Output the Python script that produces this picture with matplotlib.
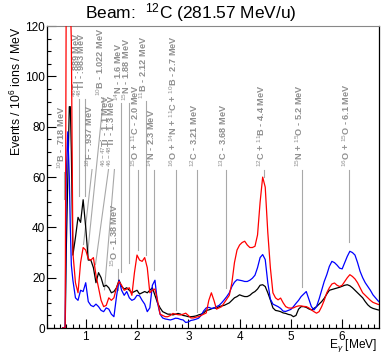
import numpy as np
import matplotlib
matplotlib.use("Agg")
import matplotlib.pyplot as plt

plt.rcParams['font.family'] = ['Liberation Sans', 'DejaVu Sans']
plt.rcParams['mathtext.fontset'] = 'custom'
plt.rcParams['mathtext.rm'] = 'Liberation Sans'
plt.rcParams['mathtext.it'] = 'Liberation Sans:italic'
plt.rcParams['mathtext.bf'] = 'Liberation Sans:bold'

# energies [MeV]
energy = [0.55, 0.60, 0.62, 0.65, 0.68, 0.70, 0.72, 0.75, 0.80, 0.85, 0.90, 0.95,
          1.00, 1.05, 1.10, 1.15, 1.20, 1.25, 1.30, 1.35, 1.40, 1.45, 1.50, 1.55,
          1.60, 1.65, 1.70, 1.75, 1.80, 1.85, 1.90, 1.95, 2.00, 2.05, 2.10, 2.15,
          2.20, 2.25, 2.30, 2.35, 2.40, 2.45, 2.50, 2.55, 2.60, 2.65, 2.70, 2.75,
          2.80, 2.85, 2.90, 2.95, 3.00, 3.05, 3.10, 3.15, 3.20, 3.25, 3.30, 3.35,
          3.40, 3.45, 3.50, 3.55, 3.60, 3.65, 3.70, 3.75, 3.80, 3.85, 3.90, 3.95,
          4.00, 4.05, 4.10, 4.15, 4.20, 4.25, 4.30, 4.35, 4.40, 4.45, 4.50, 4.55,
          4.60, 4.65, 4.70, 4.75, 4.80, 4.85, 4.90, 4.95, 5.00, 5.05, 5.10, 5.15,
          5.20, 5.25, 5.30, 5.35, 5.40, 5.45, 5.50, 5.55, 5.60, 5.65, 5.70, 5.75,
          5.80, 5.85, 5.90, 5.95, 6.00, 6.05, 6.10, 6.15, 6.20, 6.25, 6.30, 6.35,
          6.40, 6.45, 6.50, 6.55, 6.60, 6.65, 6.70, 6.75]

black = [0, 0, 30, 58, 88, 88, 70, 29, 36, 44, 42, 51,
         40, 27, 27, 24, 18, 22, 20, 16.5, 17, 16, 14, 14.5,
         16, 19, 16.5, 15.5, 16, 15, 14, 14.5, 15, 13.5, 14, 14.5,
         14, 15, 16, 13, 10, 8, 6.5, 6, 5.5, 5.5, 5.2, 5.5,
         5.8, 5.5, 5, 4.8, 4.5, 4.5, 4.6, 4.8, 5.2, 5.5, 6, 7,
         7.2, 7.6, 8, 7.8, 8.5, 8.8, 9, 9.5, 10, 11, 12, 12.5,
         13.2, 12.8, 12.5, 12.5, 13, 13.9, 14.5, 15.5, 17, 17.2, 16.5, 14,
         11.2, 8, 7, 6.8, 6.5, 6, 5.8, 5.4, 5.2, 4.5, 5, 7.5,
         8.5, 8.5, 8.2, 7.6, 7.2, 7.8, 8.5, 9.5, 10.5, 11.8, 13.5, 15,
         15.3, 15.6, 15.9, 16.2, 16.6, 17, 17.2, 16.8, 16, 15, 14, 13,
         12, 10.5, 9.2, 8.3, 7.8, 7.5, 7.2, 7]

red = [0, 0, 135, 140, 135, 130, 114, 30, 18, 14, 26, 32,
       31, 27.5, 27, 28, 21, 16, 11, 8.5, 9, 12, 11, 12,
       16, 18.5, 17, 15, 15.5, 16, 13, 22, 29, 27, 26.5, 28,
       24, 14, 15, 15.5, 11, 5.5, 5, 4.5, 4.5, 5, 5.8, 5.5,
       5.3, 5.2, 5.5, 5.9, 5, 4, 4, 4.3, 4.5, 5, 5.5, 6,
       11, 14, 11, 7.5, 8, 8.5, 10, 11.5, 13, 18, 26, 31,
       33, 34, 34.5, 33, 32, 32, 32.5, 37, 50, 60, 56, 38,
       24, 14, 12, 11.2, 11.9, 10, 8.5, 8, 7.9, 8, 8.5, 8.8,
       8.8, 8.6, 8.5, 8, 7.2, 6.5, 5.9, 6.5, 8.5, 11, 14, 16,
       17.5, 17.9, 17, 16.5, 17, 18.5, 20, 21.2, 20.5, 19.5, 18, 16,
       14, 13, 12, 11, 10.2, 9.8, 9.4, 9.2]

blue = [0, 0, 60, 78, 60, 40, 25, 19, 12, 11, 15, 14.5,
        18, 10.5, 9, 8.5, 9.5, 8.5, 7, 6.5, 8, 7.5, 5.5, 4.5,
        12.5, 19, 15, 13, 14.5, 12, 11, 11.5, 13, 12.8, 11, 9.5,
        6.5, 8, 17, 19, 10, 5.5, 4, 3.6, 3.4, 3.2, 3.5, 3.9,
        3.8, 3.4, 3.2, 2.2, 2.4, 3, 3.2, 3.5, 3.9, 5, 6.8, 8,
        8.2, 7.8, 7.9, 8.5, 9, 10, 11.2, 12.5, 14, 16.5, 18.2, 19.2,
        19, 18.8, 18.5, 18.5, 19, 19.8, 21, 24, 28, 29.2, 27.2, 18,
        11.5, 9.5, 9, 8.5, 7.8, 6.7, 6.6, 7, 7.4, 8.5, 9.8, 11,
        12.5, 13.5, 14.5, 11.5, 8.5, 7.2, 8.5, 11.5, 15, 18.5, 21.2, 24.5,
        26.5, 26, 25, 23.8, 23.5, 26, 28.5, 30.5, 30, 29, 26, 22.5,
        20, 18, 16.5, 15, 13.2, 12, 10.8, 9.9]

# line labels: text, line x (MeV), text bottom, line end x, line end y
label_text = [r"$^{10}$B - .718 MeV", r"$^{46}$Ti - .889 MeV", r"$^{48}$Ti - .983 MeV",
              r"$^{10}$B - 1.022 MeV", r"$^{18}$F - .937 MeV", r"$^{46-47}$Ti - 1.1 MeV",
              r"$^{46-48}$Ti - 1.3 MeV", r"$^{14}$N - 1.6 MeV", r"$^{15}$N - 1.88 MeV",
              r"$^{15}$O + $^{11}$C - 2.0 MeV", r"$^{11}$B - 2.12 MeV", r"$^{14}$N - 2.3 MeV",
              r"$^{16}$O + $^{14}$N + $^{11}$C + $^{10}$B - 2.7 MeV", r"$^{12}$C - 3.21 MeV",
              r"$^{13}$C - 3.68 MeV", r"$^{12}$C + $^{11}$B - 4.4 MeV", r"$^{15}$N + $^{15}$O - 5.2 MeV",
              r"$^{16}$O + $^{15}$O - 6.1 MeV", r"$^{15}$O - 1.38 MeV"]
label_x = [0.578, 0.870, 0.977, 1.346, 1.123, 1.444, 1.56, 1.696, 1.852, 2.027, 2.183,
           2.339, 2.767, 3.175, 3.739, 4.479, 5.218, 6.132, 1.62]
label_y = [63.2, 92, 92, 92.4, 64, 64, 64, 90.4, 90.4, 64, 91.2, 64, 64, 64, 64, 64, 64, 64, 24.4]
end_x = [0.578, 0.870, 0.977, 1.035, 0.957, 1.19, 1.366, 1.696, 1.852, 2.027, 2.183,
         2.339, 2.767, 3.175, 3.739, 4.479, 5.218, 6.132, 1.62]
end_y = [51.2, 52.4, 52.4, 29.2, 33.2, 25.2, 15.2, 22.4, 26, 31.2, 29.2, 23.2, 7.2, 6.4,
         16, 60, 16.4, 34, 15.2]

fig = plt.figure(figsize=(3.81, 3.53), dpi=100)
ax = fig.add_axes([0.124, 0.0708, 0.871, 0.855])

gray = '#8f8f8f'
for t, lx, ly, ex, ey in zip(label_text, label_x, label_y, end_x, end_y):
    ax.plot([lx, ex], [ly - 1.0, ey], color='#a8a8a8', lw=0.8, zorder=1)
    ax.annotate(t, (lx, ly), xytext=(-2.2, 0), textcoords='offset points',
                rotation=90, ha='center', va='bottom', fontsize=6.6,
                color=gray, fontweight='bold', zorder=1)

ax.plot(energy, black, color='black', lw=0.9, zorder=3)
ax.plot(energy, blue, color='#0000ff', lw=0.9, zorder=4)
ax.plot(energy, red, color='#ff0000', lw=0.9, zorder=5)

ax.set_xlim(0.25, 6.72)
ax.set_ylim(0, 120)
ax.set_xticks([1, 2, 3, 4, 5, 6])
ax.set_xticks(np.arange(0.25, 6.75, 0.125), minor=True)
ax.set_yticks(np.arange(0, 121, 20))
ax.set_yticks(np.arange(0, 121, 5), minor=True)
ax.tick_params(which='both', direction='in', labelsize=8.5, width=0.8)
ax.tick_params(which='major', length=6.5)
ax.tick_params(which='minor', length=3.2)
ax.tick_params(axis='x', pad=2)
ax.tick_params(axis='y', pad=1.5)
ax.spines['top'].set_color('#888888')
for s in ['left', 'bottom', 'right']:
    ax.spines[s].set_linewidth(0.9)

ax.set_ylabel(r"Events / 10$^{6}$ ions / MeV", fontsize=8.8, loc='top')
ax.yaxis.set_label_coords(-0.070, 1.0)
ax.set_xlabel(r"E$_{\gamma}$ [MeV]", fontsize=8.6, loc='right')
ax.xaxis.set_label_coords(0.993, -0.030)
fig.text(0.5, 0.965, r"Beam:  $^{12}$C (281.57 MeV/u)", ha='center', va='center', fontsize=12.5)

fig.savefig("out.png", dpi=100)
